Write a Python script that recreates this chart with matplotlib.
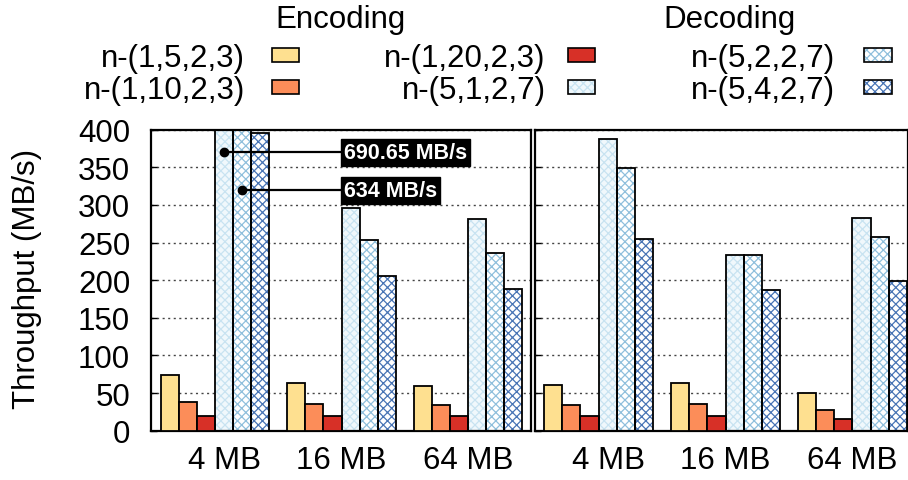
import matplotlib
matplotlib.use("Agg")
import matplotlib.pyplot as plt
from matplotlib.patches import Rectangle
from matplotlib.transforms import ScaledTranslation
import numpy as np

# ---------------- data ----------------
sizes = ["4 MB", "16 MB", "64 MB"]
series = ["n-(1,5,2,3)", "n-(1,10,2,3)", "n-(1,20,2,3)",
          "n-(5,1,2,7)", "n-(5,2,2,7)", "n-(5,4,2,7)"]
panel_titles = ["Encoding", "Decoding"]

enc_1_5_2_3 = [74, 63, 60]
enc_1_10_2_3 = [38, 36, 34]
enc_1_20_2_3 = [19, 19, 19]
enc_5_1_2_7 = [690.65, 296, 281]
enc_5_2_2_7 = [634, 254, 236]
enc_5_4_2_7 = [395, 205, 188]

dec_1_5_2_3 = [61, 63, 50]
dec_1_10_2_3 = [34, 36, 28]
dec_1_20_2_3 = [19, 20, 15]
dec_5_1_2_7 = [388, 233, 282]
dec_5_2_2_7 = [349, 233, 258]
dec_5_4_2_7 = [255, 187, 199]

encoding = [enc_1_5_2_3, enc_1_10_2_3, enc_1_20_2_3, enc_5_1_2_7, enc_5_2_2_7, enc_5_4_2_7]
decoding = [dec_1_5_2_3, dec_1_10_2_3, dec_1_20_2_3, dec_5_1_2_7, dec_5_2_2_7, dec_5_4_2_7]

y_ticks = [0, 50, 100, 150, 200, 250, 300, 350, 400]
# outlier call-outs: (series index, size index, label text)
callouts = [(3, 0, "690.65 MB/s"), (4, 0, "634 MB/s")]

# ---------------- style ----------------
FONT = "Liberation Sans"
FS = 22.5
plt.rcParams["font.family"] = [FONT, "DejaVu Sans"]
plt.rcParams["hatch.linewidth"] = 0.9

styles = [
    dict(fc="#FEE090", hc=None, hatch=None),
    dict(fc="#FC8D59", hc=None, hatch=None),
    dict(fc="#D73027", hc=None, hatch=None),
    dict(fc="#F0F8FC", hc="#C8E3F1", hatch="xxxx"),
    dict(fc="#FFFFFF", hc="#8FBFDC", hatch="xxxx"),
    dict(fc="#FFFFFF", hc="#4874B5", hatch="xxxx"),
]

W, H = 908, 481
fig = plt.figure(figsize=(W / 100, H / 100), dpi=100)

ax_l = fig.add_axes([151 / W, (H - 431.7) / H, 380 / W, 301 / H])
ax_r = fig.add_axes([535 / W, (H - 431.7) / H, 372.5 / W, 301 / H])

group_step = 7
n_ser = len(series)
xlims = [(-1.036, 19.98), (-1.01, 19.54)]

for ax, data, xl in zip([ax_l, ax_r], [encoding, decoding], xlims):
    for g in range(len(sizes)):
        for s in range(n_ser):
            x = g * group_step + s
            v = data[s][g]
            st = styles[s]
            if st["hatch"]:
                ax.bar(x, v, width=1.0, color=st["fc"], edgecolor=st["hc"],
                       hatch=st["hatch"], linewidth=0, zorder=2)
                ax.bar(x, v, width=1.0, fill=False, edgecolor="black",
                       linewidth=1.3, zorder=3)
            else:
                ax.bar(x, v, width=1.0, color=st["fc"], edgecolor="black",
                       linewidth=1.3, zorder=3)
    ax.set_xlim(*xl)
    ax.set_ylim(0, 400)
    ax.set_yticks(y_ticks)
    centers = [g * group_step + (n_ser - 1) / 2 for g in range(len(sizes))]
    ax.set_xticks(centers)
    ax.set_xticklabels(sizes, fontsize=FS)
    ax.tick_params(axis="x", length=0, pad=10.5)
    ax.tick_params(axis="y", direction="in", length=4, width=1.0, pad=15,
                   labelsize=FS)
    ax.grid(axis="y", color="#444444", linestyle=(0, (1.5, 2.5)), linewidth=1.0,
            zorder=0)
    ax.set_axisbelow(True)
    for sp in ax.spines.values():
        sp.set_linewidth(1.6)
    # first label is shifted slightly to the right in the reference
    lbl = ax.get_xticklabels()[0]
    lbl.set_transform(lbl.get_transform() + ScaledTranslation(10 / 100, 0, fig.dpi_scale_trans))

ax_r.tick_params(axis="y", labelleft=False)

# y label
fig.text(27.5 / W, 1 - 279 / H, "Throughput (MB/s)", rotation=90,
         ha="center", va="center", fontsize=FS)

# panel titles
fig.text(341 / W, 1 - 28 / H, panel_titles[0], ha="center", va="baseline", fontsize=FS)
fig.text(730 / W, 1 - 28 / H, panel_titles[1], ha="center", va="baseline", fontsize=FS)

# call-outs for clipped bars
text_x = 9.64
text_ys = [370, 319.5]
for (s, g, txt), ty in zip(callouts, text_ys):
    bx = g * group_step + s
    ax_l.plot([bx, text_x], [ty, ty], color="black", lw=1.6, zorder=6, clip_on=False)
    ax_l.plot([bx], [ty], "o", color="black", ms=6, zorder=7)
    ax_l.text(text_x, ty, txt, color="white", fontsize=15.5, fontweight="bold",
              ha="left", va="center", zorder=8,
              bbox=dict(boxstyle="square,pad=0.15", fc="black", ec="black"))

# legend (manual, text right aligned with swatch on the right)
legend_layout = [
    # (series idx, text right x, swatch left x, row center y)
    (0, 245, 271.7, 56), (1, 245, 271.7, 88.3),
    (2, 545.7, 567.7, 56), (3, 545.7, 567.7, 88.3),
    (4, 835, 864, 56), (5, 835, 864, 88.3),
]
sw_w, sw_h = 27.7, 14
for s, tx, sx, cy in legend_layout:
    fig.text(tx / W, 1 - (cy + 11) / H, series[s], ha="right", va="baseline",
             fontsize=FS)
    st = styles[s]
    if st["hatch"]:
        r = Rectangle((sx / W, 1 - (cy + sw_h / 2) / H), sw_w / W, sw_h / H,
                      transform=fig.transFigure, facecolor=st["fc"],
                      edgecolor=st["hc"], hatch=st["hatch"], linewidth=0)
        fig.add_artist(r)
        r2 = Rectangle((sx / W, 1 - (cy + sw_h / 2) / H), sw_w / W, sw_h / H,
                       transform=fig.transFigure, fill=False,
                       edgecolor="black", linewidth=1.2)
        fig.add_artist(r2)
    else:
        r = Rectangle((sx / W, 1 - (cy + sw_h / 2) / H), sw_w / W, sw_h / H,
                      transform=fig.transFigure, facecolor=st["fc"],
                      edgecolor="black", linewidth=1.2)
        fig.add_artist(r)

fig.savefig("out.png", dpi=100)
